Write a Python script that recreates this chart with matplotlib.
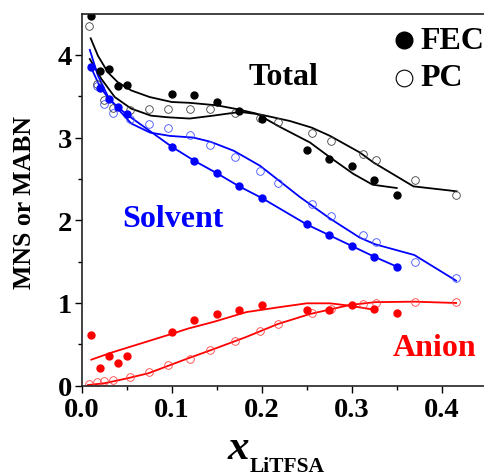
import numpy as np
import matplotlib
matplotlib.use("Agg")
import matplotlib.pyplot as plt

plt.rcParams['font.family'] = ['Liberation Serif', 'DejaVu Serif']
plt.rcParams['font.weight'] = 'bold'

# ---- data points ----
x_fec = [0.01, 0.02, 0.03, 0.04, 0.05, 0.10, 0.125, 0.15, 0.175, 0.20, 0.25, 0.275, 0.30, 0.325, 0.35]
total_fec = [4.47, 3.80, 3.83, 3.62, 3.63, 3.53, 3.52, 3.43, 3.32, 3.22, 2.85, 2.74, 2.66, 2.49, 2.31]
solvent_fec = [3.85, 3.60, 3.47, 3.37, 3.28, 2.89, 2.72, 2.57, 2.41, 2.27, 1.95, 1.82, 1.69, 1.56, 1.44]
anion_fec = [0.61, 0.21, 0.36, 0.27, 0.36, 0.65, 0.80, 0.87, 0.92, 0.97, 0.91, 0.92, 0.98, 0.93, 0.88]

x_pc = [0.008, 0.017, 0.025, 0.035, 0.054, 0.075, 0.096, 0.12, 0.143, 0.17, 0.198, 0.218, 0.256, 0.277, 0.312, 0.327, 0.37, 0.416]
total_pc = [4.35, 3.65, 3.46, 3.36, 3.33, 3.34, 3.35, 3.35, 3.34, 3.30, 3.24, 3.19, 3.06, 2.96, 2.80, 2.73, 2.49, 2.30]
solvent_pc = [np.nan, 3.62, 3.40, 3.30, 3.23, 3.17, 3.11, 3.03, 2.91, 2.77, 2.59, 2.45, 2.20, 2.05, 1.82, 1.74, 1.49, 1.30]
anion_pc = [0.02, 0.05, 0.057, 0.07, 0.11, 0.17, 0.25, 0.323, 0.43, 0.54, 0.66, 0.746, 0.875, 0.93, 0.99, 1.00, 1.01, 1.01]

# ---- fitted curves ----
fit_total_fec_x = [0.010, 0.018, 0.029, 0.040, 0.055, 0.0755, 0.100, 0.12, 0.15, 0.172, 0.194, 0.22, 0.2537, 0.276, 0.302, 0.3233, 0.35]
fit_total_fec_y = [4.20, 3.99, 3.79, 3.67, 3.57, 3.49, 3.43, 3.42, 3.39, 3.345, 3.29, 3.13, 2.94, 2.76, 2.56, 2.43, 2.39]
fit_total_pc_x = [0.009, 0.0218, 0.0367, 0.055, 0.077, 0.096, 0.12, 0.146, 0.176, 0.198, 0.2314, 0.2556, 0.276, 0.309, 0.324, 0.3686, 0.409, 0.4166]
fit_total_pc_y = [3.95, 3.71, 3.49, 3.35, 3.265, 3.245, 3.23, 3.265, 3.31, 3.28, 3.20, 3.12, 3.02, 2.82, 2.70, 2.41, 2.36, 2.35]

fit_solv_fec_x = [0.009, 0.02, 0.03, 0.04, 0.05, 0.10, 0.125, 0.15, 0.175, 0.20, 0.25, 0.275, 0.30, 0.325, 0.35]
fit_solv_fec_y = [3.88, 3.62, 3.47, 3.37, 3.28, 2.89, 2.72, 2.57, 2.41, 2.27, 1.95, 1.82, 1.69, 1.56, 1.44]
fit_solv_pc_x = [0.009, 0.018, 0.029, 0.040, 0.055, 0.076, 0.098, 0.124, 0.143, 0.169, 0.198, 0.218, 0.2426, 0.276, 0.309, 0.326, 0.3696, 0.416]
fit_solv_pc_y = [4.06, 3.75, 3.50, 3.35, 3.17, 3.06, 3.02, 3.00, 2.95, 2.84, 2.66, 2.49, 2.28, 2.02, 1.79, 1.71, 1.58, 1.27]

fit_anion_fec_x = [0.0107, 0.033, 0.070, 0.0996, 0.118, 0.146, 0.183, 0.22, 0.25, 0.276, 0.298, 0.324]
fit_anion_fec_y = [0.315, 0.40, 0.525, 0.625, 0.69, 0.77, 0.89, 0.95, 0.996, 0.996, 0.967, 0.92]
fit_anion_pc_x = [0.007, 0.0255, 0.051, 0.074, 0.096, 0.118, 0.146, 0.183, 0.218, 0.2537, 0.298, 0.326, 0.3696, 0.416]
fit_anion_pc_y = [0.008, 0.03, 0.09, 0.15, 0.24, 0.33, 0.44, 0.59, 0.746, 0.867, 0.976, 1.01, 1.016, 1.00]

BLACK = '#000000'
BLUE = '#0000ff'
RED = '#ff0000'

W, H = 484, 477
fig = plt.figure(figsize=(W / 100, H / 100), dpi=100)
ax = fig.add_axes([81.7 / W, (H - 386.7) / H, 405 / W, 372.2 / H])
ax.set_xlim(0, 0.45)
ax.set_ylim(0, 4.5)

lw = 1.3
ax.plot(fit_total_fec_x, fit_total_fec_y, color=BLACK, lw=lw)
ax.plot(fit_total_pc_x, fit_total_pc_y, color=BLACK, lw=lw)
ax.plot(fit_solv_fec_x, fit_solv_fec_y, color=BLUE, lw=lw)
ax.plot(fit_solv_pc_x, fit_solv_pc_y, color=BLUE, lw=lw)
ax.plot(fit_anion_fec_x, fit_anion_fec_y, color=RED, lw=lw)
ax.plot(fit_anion_pc_x, fit_anion_pc_y, color=RED, lw=lw)

ms_f, ms_o, mew = 5, 5.5, 0.6
for xs, ys, c in [(x_pc, solvent_pc, '#4050ff'), (x_pc, anion_pc, '#ff4040'), (x_pc, total_pc, '#404040')]:
    ax.plot(xs, ys, 'o', ls='none', mfc='none', mec=c, ms=ms_o, mew=mew)
for xs, ys, c in [(x_fec, solvent_fec, BLUE), (x_fec, anion_fec, RED), (x_fec, total_fec, BLACK)]:
    ax.plot(xs, ys, 'o', ls='none', color=c, ms=ms_f)

# legend (manual)
ax.plot([0.3582], [4.18], 'o', color=BLACK, ms=12, clip_on=False)
ax.plot([0.3582], [3.72], 'o', mfc='white', mec=BLACK, mew=0.8, ms=12, clip_on=False)
ax.text(0.3767, 4.08, 'FEC', fontsize=23, fontweight='bold', ha='left', va='baseline')
ax.text(0.3767, 3.636, 'PC', fontsize=23, fontweight='bold', ha='left', va='baseline')

ax.text(0.1851, 3.648, 'Total', fontsize=23, fontweight='bold', color=BLACK, ha='left', va='baseline')
ax.text(0.0456, 1.935, 'Solvent', fontsize=23, fontweight='bold', color=BLUE, ha='left', va='baseline')
ax.text(0.3456, 0.371, 'Anion', fontsize=23, fontweight='bold', color=RED, ha='left', va='baseline')

ax.set_xticks([0.0, 0.1, 0.2, 0.3, 0.4])
ax.set_xticklabels(['0.0', '0.1', '0.2', '0.3', '0.4'])
ax.set_xticks(np.arange(0.05, 0.45, 0.1), minor=True)
ax.set_yticks([0, 1, 2, 3, 4])
ax.set_yticks([0.5, 1.5, 2.5, 3.5], minor=True)
ax.tick_params(which='major', direction='out', length=5, width=1.0, labelsize=20.5, pad=3)
ax.tick_params(which='minor', direction='out', length=2.8, width=1.0)
ax.tick_params(axis='y', which='major', pad=2)
for lab in ax.get_xticklabels() + ax.get_yticklabels():
    lab.set_fontweight('bold')

ax.spines['right'].set_visible(False)
for s in ['left', 'bottom', 'top']:
    ax.spines[s].set_linewidth(1.2)
    ax.spines[s].set_color('#222222')

fig.text(25 / W, 1 - 203 / H, 'MNS or MABN', rotation=90, fontsize=18.5, fontweight='bold',
         ha='center', va='center')
fig.text(228 / W, (H - 459.3) / H, 'x', fontsize=31, fontweight='bold', style='italic',
         ha='left', va='baseline')
fig.text(250 / W, (H - 472.5) / H, 'LiTFSA', fontsize=15.5, fontweight='bold',
         ha='left', va='baseline')

fig.savefig('out.png', dpi=100)
